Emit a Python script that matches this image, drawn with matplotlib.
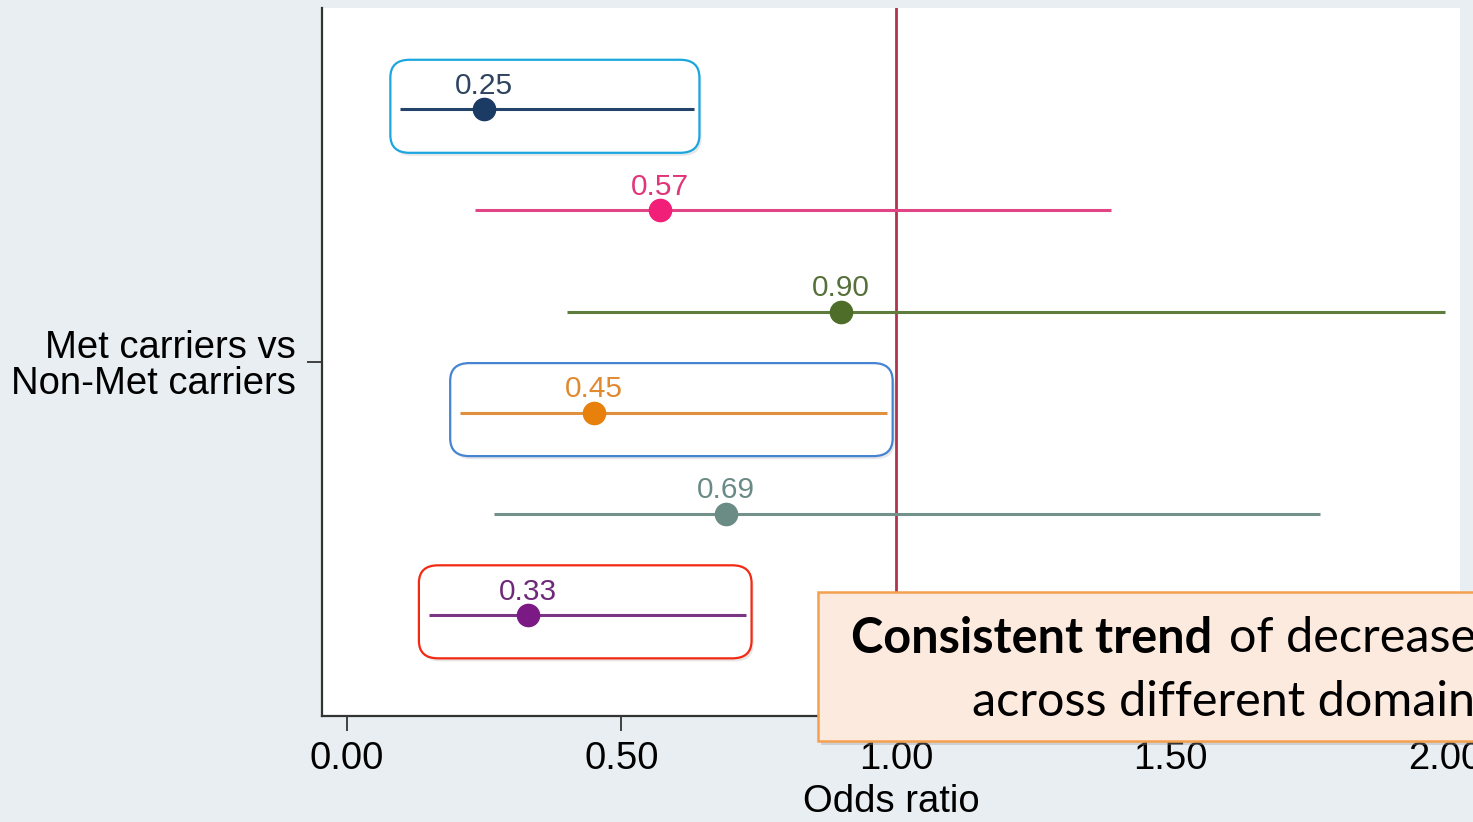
import matplotlib.pyplot as plt
from matplotlib.patches import FancyBboxPatch

# odds ratios (top to bottom) with confidence intervals
odds = [0.25, 0.57, 0.90, 0.45, 0.69, 0.33]
ci_low = [0.097, 0.233, 0.40, 0.206, 0.268, 0.149]
ci_high = [0.632, 1.392, 2.00, 0.984, 1.772, 0.727]
labels = ["0.25", "0.57", "0.90", "0.45", "0.69", "0.33"]
line_colors = ["#24436b", "#e04585", "#5e7c3c", "#e0913f", "#72918b", "#7a3585"]
dot_colors = ["#1b3a64", "#f21f78", "#4e6d29", "#e8800c", "#6a8c85", "#7b1a84"]
text_colors = ["#2e4460", "#e0357a", "#55703a", "#e08a30", "#6a8a86", "#6e2a78"]
# rows that get a highlight box, and the box colour
highlight = {0: "#1ba6e0", 3: "#4684d2", 5: "#f22a14"}

group_label = "Met carriers vs\nNon-Met carriers"
ticks = [0.0, 0.5, 1.0, 1.5, 2.0]
tick_labels = ["0.00", "0.50", "1.00", "1.50", "2.00"]

bg = "#e8eef1"
plt.rcParams['font.family'] = ['Liberation Sans', 'DejaVu Sans']

fig = plt.figure(figsize=(14.73, 8.22), dpi=100, facecolor=bg)
ax = fig.add_axes([0.2186, 0.129, 0.7724, 0.861])
ax.set_facecolor("white")

rows = list(range(1, len(odds) + 1))

for i in range(len(odds)):
  y = rows[i]
  ax.plot([ci_low[i], ci_high[i]], [y, y], color=line_colors[i], lw=2.2,
          solid_capstyle='butt', zorder=3)
  ax.plot(odds[i], y, 'o', color=dot_colors[i], markersize=16, zorder=4)
  ax.annotate(labels[i], (odds[i], y), xytext=(0, 11), textcoords='offset points',
              ha='center', va='baseline', color=text_colors[i], fontsize=21.5, zorder=5)
  if i in highlight:
    x0 = ci_low[i] - 0.018
    x1 = ci_high[i] + 0.01
    # soft shadow first, then the box
    sh = FancyBboxPatch((x0 + 0.004, y - 0.44), x1 - x0, 0.90,
                        boxstyle="round,pad=0,rounding_size=0.035",
                        mutation_aspect=5, fc="#bbbbbb", ec="none", alpha=0.35,
                        zorder=1)
    ax.add_patch(sh)
    box = FancyBboxPatch((x0, y - 0.49), x1 - x0, 0.92,
                         boxstyle="round,pad=0,rounding_size=0.035",
                         mutation_aspect=5, fc="white", ec=highlight[i], lw=1.6,
                         zorder=2)
    ax.add_patch(box)

ax.axvline(1.0, color="#b3324c", lw=2.0, zorder=2.5)

ax.set_xlim(-0.0455, 2.027)
ax.set_ylim(7, 0)

ax.set_xticks(ticks)
ax.set_xticklabels(tick_labels, fontsize=27.5)
ax.set_yticks([3.5])
ax.set_yticklabels([group_label], fontsize=27.5, linespacing=1.0)
ax.tick_params(axis='x', length=11, width=1.3, pad=7, color="#333333")
ax.tick_params(axis='y', length=11, width=1.3, pad=8, color="#333333")
ax.set_xlabel("Odds ratio", fontsize=27.5, labelpad=5)

for s in ["top", "right"]:
  ax.spines[s].set_visible(False)
for s in ["left", "bottom"]:
  ax.spines[s].set_linewidth(1.6)
  ax.spines[s].set_color("#333333")

# callout box, cut off by the right edge
shadow = FancyBboxPatch((818 / 1473 + 0.002, 1 - 741 / 822 - 0.005), 0.5, 149 / 822,
                        boxstyle="square,pad=0", transform=fig.transFigure,
                        fc="#999999", ec="none", alpha=0.35, zorder=8)
fig.add_artist(shadow)
callout = FancyBboxPatch((818 / 1473, 1 - 741 / 822), 0.5, 149 / 822,
                         boxstyle="square,pad=0", transform=fig.transFigure,
                         fc="#fdeadf", ec="#f4a050", lw=1.8, zorder=9)
fig.add_artist(callout)

cfont = ['Lato', 'DejaVu Sans']
t1 = fig.text(851 / 1473, 1 - 638 / 822, "Consistent trend", fontsize=35, fontweight='bold',
              family=cfont, va='center', ha='left', zorder=10)
# put the regular part right after the bold part
fig.canvas.draw()
bb = t1.get_window_extent(renderer=fig.canvas.get_renderer())
fig.text((bb.x1 + 17) / 1473, 1 - 638 / 822, "of decrease", fontsize=35,
         family=cfont, va='center', ha='left', zorder=10)
fig.text(972 / 1473, 1 - 702 / 822, "across different domains", fontsize=35,
         family=cfont, va='center', ha='left', zorder=10)

fig.savefig("out.png", dpi=100, facecolor=bg)
